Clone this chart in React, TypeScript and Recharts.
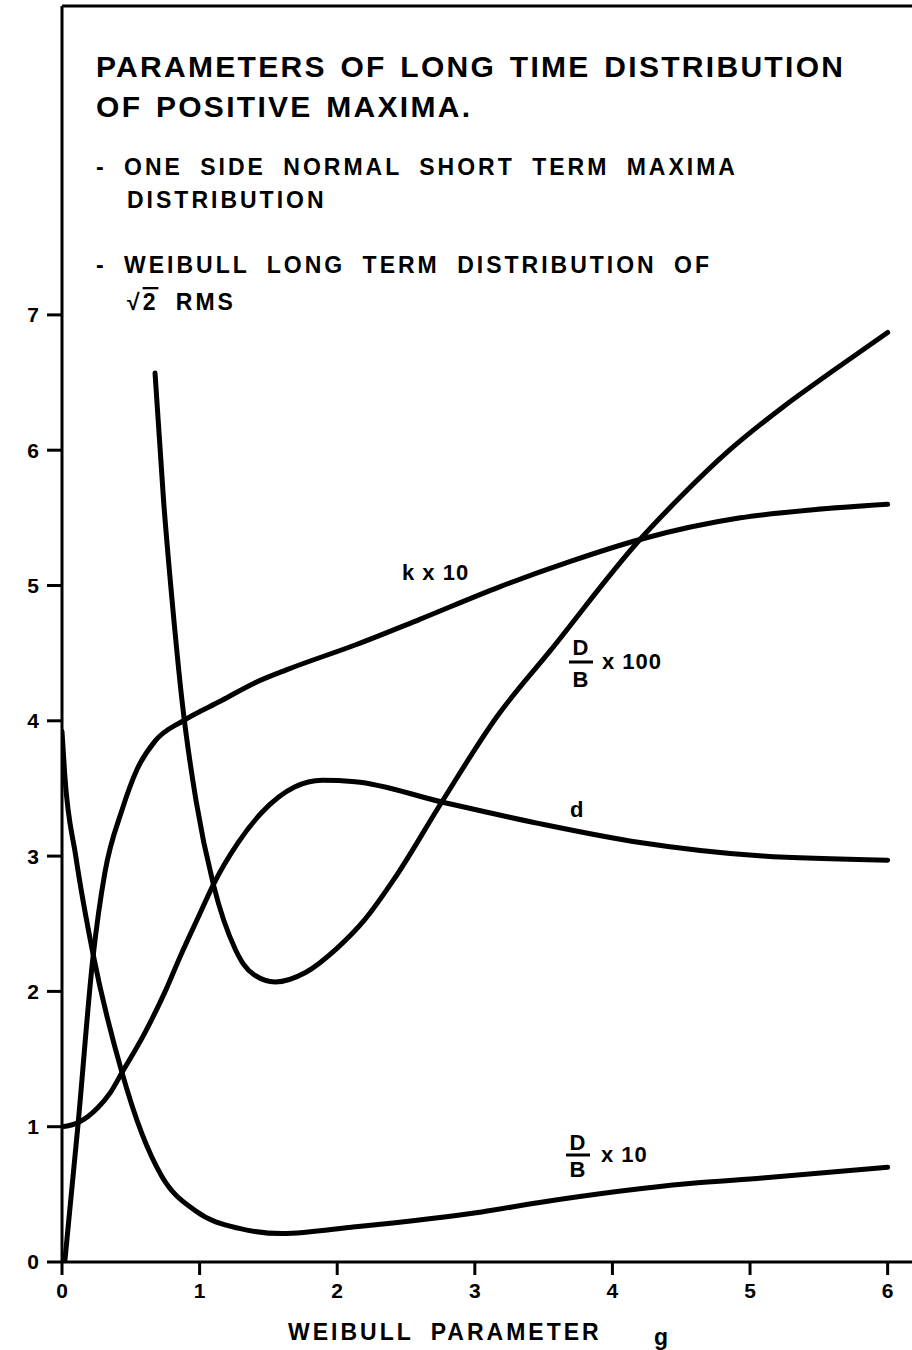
import { LineChart, Line, XAxis, YAxis, ReferenceLine } from "recharts";

// Weibull parameter g (x) and curve values
const kG = [0.02, 0.116, 0.225, 0.312, 0.436, 0.545, 0.676, 0.88, 1.16, 1.4, 1.64, 2.13, 2.6, 3.18, 3.7, 4.2, 4.93, 5.46, 6.0];
const kValues = [0, 1.01, 2.25, 2.88, 3.34, 3.64, 3.85, 4.0, 4.15, 4.28, 4.38, 4.56, 4.75, 4.99, 5.18, 5.34, 5.5, 5.56, 5.6];

const dbHundredG = [0.676, 0.738, 0.8, 0.872, 0.974, 1.1, 1.26, 1.32, 1.4, 1.55, 1.77, 2.0, 2.2, 2.42, 2.76, 3.16, 3.55, 4.2, 4.49, 4.85, 5.24, 5.58, 6.0];
const dbHundredValues = [6.57, 5.63, 4.89, 4.15, 3.41, 2.79, 2.31, 2.2, 2.12, 2.07, 2.14, 2.32, 2.53, 2.84, 3.4, 4.03, 4.52, 5.34, 5.65, 6.0, 6.32, 6.57, 6.87];

const dG = [0, 0.116, 0.26, 0.35, 0.436, 0.6, 0.75, 0.86, 1.0, 1.1, 1.28, 1.45, 1.69, 1.89, 2.13, 2.76, 3.47, 4.2, 5.09, 6.0];
const dValues = [1.0, 1.03, 1.14, 1.25, 1.4, 1.69, 2.0, 2.26, 2.57, 2.79, 3.1, 3.32, 3.51, 3.56, 3.55, 3.4, 3.24, 3.1, 3.0, 2.97];

const dbTenG = [0, 0.02, 0.1, 0.225, 0.436, 0.58, 0.727, 0.967, 1.28, 1.6, 2.13, 3.05, 3.47, 4.56, 5.09, 6.0];
const dbTenValues = [3.92, 3.6, 3.0, 2.28, 1.4, 0.95, 0.63, 0.38, 0.25, 0.21, 0.26, 0.37, 0.44, 0.58, 0.62, 0.7];

const xTicks = [0, 1, 2, 3, 4, 5, 6];
const yTicks = [0, 1, 2, 3, 4, 5, 6, 7];

const X_MAX = 6.177;
const Y_MAX = 9.283;

const FONT = "'Liberation Sans', Arial, sans-serif";

const toPoints = (gs: number[], vs: number[]) => gs.map((g, i) => ({ g, v: vs[i] }));

const series = [
  { key: "k", data: toPoints(kG, kValues) },
  { key: "dB100", data: toPoints(dbHundredG, dbHundredValues) },
  { key: "d", data: toPoints(dG, dValues) },
  { key: "dB10", data: toPoints(dbTenG, dbTenValues) },
];

const tickStyle = { fontSize: 21, fontWeight: 700, fill: "#000", fontFamily: FONT };
const lineStyle = { stroke: "#000", strokeWidth: 3 };

export default function App() {
  return (
    <div style={{ position: "absolute", left: 0, top: 0, width: 912, height: 1350, background: "#fff" }}>
      <LineChart width={912} height={1350} margin={{ top: 6, right: 0, bottom: 0, left: 0 }}>
        <XAxis
          type="number"
          dataKey="g"
          domain={[0, X_MAX]}
          ticks={xTicks}
          allowDataOverflow
          height={88}
          tickSize={13}
          tickMargin={8}
          axisLine={lineStyle}
          tickLine={lineStyle}
          tick={tickStyle}
        />
        <YAxis
          type="number"
          domain={[0, Y_MAX]}
          ticks={yTicks}
          allowDataOverflow
          width={62}
          tickSize={15}
          tickMargin={8}
          axisLine={lineStyle}
          tickLine={lineStyle}
          tick={tickStyle}
        />
        <ReferenceLine y={Y_MAX} stroke="#000" strokeWidth={3} />
        {series.map((s) => (
          <Line
            key={s.key}
            data={s.data}
            dataKey="v"
            type="monotone"
            stroke="#000"
            strokeWidth={5}
            strokeLinecap="round"
            strokeLinejoin="round"
            dot={false}
            activeDot={false}
            isAnimationActive={false}
          />
        ))}
      </LineChart>
      <svg
        width={912}
        height={1350}
        style={{ position: "absolute", left: 0, top: 0, pointerEvents: "none" }}
        fontFamily={FONT}
        fontWeight={700}
      >
        <g fontSize={30} letterSpacing={2.3} wordSpacing={3}>
          <text x={96} y={77}>PARAMETERS OF LONG TIME  DISTRIBUTION</text>
          <text x={96} y={117}>OF POSITIVE  MAXIMA.</text>
        </g>
        <g fontSize={23} letterSpacing={3} wordSpacing={8}>
          <text x={96} y={175}>- ONE SIDE NORMAL SHORT TERM MAXIMA</text>
          <text x={127} y={208}>DISTRIBUTION</text>
          <text x={96} y={273}>- WEIBULL LONG TERM DISTRIBUTION OF</text>
          <text x={127} y={310}>
            √<tspan style={{ textDecoration: "overline" }}>2</tspan> RMS
          </text>
          <text x={288} y={1340}>WEIBULL PARAMETER</text>
          <text x={654} y={1345}>g</text>
        </g>
        <g fontSize={22} letterSpacing={1}>
          <text x={402} y={580}>k x 10</text>
          <text x={581} y={655} textAnchor="middle">D</text>
          <line x1={569} x2={593} y1={662} y2={662} stroke="#000" strokeWidth={3} />
          <text x={581} y={687} textAnchor="middle">B</text>
          <text x={602} y={669}>x 100</text>
          <text x={570} y={817}>d</text>
          <text x={578} y={1150} textAnchor="middle">D</text>
          <line x1={566} x2={590} y1={1155} y2={1155} stroke="#000" strokeWidth={3} />
          <text x={578} y={1177} textAnchor="middle">B</text>
          <text x={601} y={1162}>x 10</text>
        </g>
      </svg>
    </div>
  );
}
